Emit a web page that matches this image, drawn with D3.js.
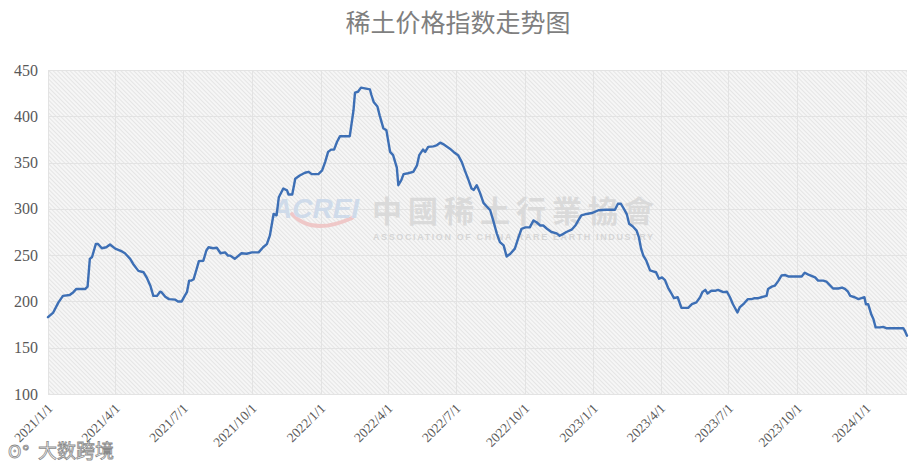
<!DOCTYPE html>
<html>
<head>
<meta charset="utf-8">
<script src="https://cdn.jsdelivr.net/npm/d3@7"></script>
<style>
  html, body { margin: 0; padding: 0; background: #ffffff; }
  svg { display: block; }
</style>
</head>
<body>
<svg id="chart" width="917" height="465"></svg>
<script>
// ---- data ----
const title = "稀土价格指数走势图";
const startDate = "2021-01-01";
// days since 2021-01-01
const days = [
  0,7,14,20,29,34,38,50,53,56,
  59,64,67,72,78,83,90,99,103,110,
  114,121,128,132,137,141,146,150,152,157,
  162,170,174,179,183,186,189,192,195,199,
  202,208,212,215,221,226,231,237,241,244,
  250,259,266,273,282,288,293,297,302,306,
  309,315,320,322,327,331,337,344,349,353,
  362,367,371,375,379,383,387,391,404,409,
  411,415,419,431,433,436,441,444,449,453,
  458,462,467,469,473,476,482,489,494,497,
  502,505,509,516,520,525,529,538,543,549,
  554,558,563,567,570,574,578,583,588,592,
  596,601,605,610,614,619,625,630,634,639,
  645,650,654,659,663,668,674,681,685,690,
  694,701,706,710,714,721,728,737,746,759,
  763,767,771,775,778,783,788,791,794,797,
  801,806,810,814,818,822,826,830,835,838,
  843,848,857,862,868,873,876,880,883,888,
  893,897,904,909,913,917,923,926,932,937,
  942,946,951,955,962,964,969,973,978,982,
  987,991,1000,1009,1013,1018,1027,1031,1038,1042,
  1045,1051,1058,1063,1067,1071,1074,1080,1085,1089,
  1093,1095,1098,1102,1105,1108,1114,1118,1123,1134,
  1145,1147,1150
];
const values = [
  183,188,199,206,207,210,213.5,213.5,216,246,
  248,262,262,257.5,258.5,261.5,257,254,252,246,
  240.5,233,231.5,226,217,206,206,210.5,210,205,
  202.5,202,200,200,206,210,222.5,222.5,224,235,
  243.5,244,255,258.5,257.5,258,252,253,249.5,249.5,
  246,252,251.5,253,253,258.5,262,271,294.5,293,
  312.5,322,320,315.5,315.5,332.5,336,339,340,337.5,
  337.5,341.5,350.5,361.5,364,364,372.5,378.5,378.5,406.5,
  425.5,426.5,431,429,423,415.5,410.5,401,387,385,
  361.5,358,344.5,325.5,331,337.5,338.5,340,347,358,
  364,361.5,367,367.5,368.5,371.5,370,365,361.5,358,
  350.5,341.5,331,322,320.5,325.5,318,306.5,302,298.5,
  287.5,273,264,260.5,248.5,251.5,257,269.5,278.5,280,
  280,287.5,285.5,282,282,278.5,275,273.5,271,273,
  275,277.5,282,287.5,293,294.5,295.5,298.5,299,299,
  305.5,305.5,300,294,284,281,276.5,269.5,257,249.5,
  244,233.5,232.5,231.5,224.5,226,223,215,208,203.5,
  204.5,193,193,197,199,204.5,210,212.5,208.5,211.5,
  211.5,212.5,210,210.5,204.5,197,188,193.5,198,202.5,
  202.5,203.5,203.5,204.5,206,213.5,216,217,222.5,228,
  228.5,227,227,227,231,229,226,222.5,222.5,221.5,
  219,214,214,215,213.5,210.5,206,204.5,202.5,203.5,
  204.5,197,197,186.5,181,172,172,172.5,171,171,
  171,168.5,163
];
const xTickLabels = ["2021/1/1","2021/4/1","2021/7/1","2021/10/1","2022/1/1","2022/4/1","2022/7/1","2022/10/1","2023/1/1","2023/4/1","2023/7/1","2023/10/1","2024/1/1"];
const yTicks = [100,150,200,250,300,350,400,450];

// ---- chart ----
const svg = d3.select("#chart");
const plot = {left: 48, right: 907, top: 70, bottom: 394};

const parse = d3.timeParse("%Y-%m-%d");
const t0 = parse(startDate);
const data = days.map((d, i) => ({date: d3.timeDay.offset(t0, d), value: values[i]}));
const tickDates = xTickLabels.map(s => d3.timeParse("%Y/%m/%d")(s));

const x = d3.scaleTime()
  .domain([t0, data[data.length - 1].date])
  .range([plot.left, plot.right]);
const y = d3.scaleLinear().domain([100, 450]).range([plot.bottom, plot.top]);

// hatch pattern
const defs = svg.append("defs");
const pat = defs.append("pattern")
  .attr("id", "hatch").attr("patternUnits", "userSpaceOnUse")
  .attr("width", 3).attr("height", 3)
  .attr("patternTransform", "rotate(45)");
pat.append("rect").attr("width", 3).attr("height", 3).attr("fill", "#f6f6f6");
pat.append("line").attr("x1", 0).attr("y1", 0).attr("x2", 3).attr("y2", 0)
  .attr("stroke", "#dadada").attr("stroke-width", 1.2);

svg.append("rect")
  .attr("x", plot.left).attr("y", plot.top)
  .attr("width", plot.right - plot.left).attr("height", plot.bottom - plot.top)
  .attr("fill", "url(#hatch)");

// grid
const grid = svg.append("g");
grid.selectAll("line.h").data(yTicks).join("line")
  .attr("x1", plot.left).attr("x2", plot.right)
  .attr("y1", d => Math.round(y(d)) + 0.5).attr("y2", d => Math.round(y(d)) + 0.5)
  .attr("stroke", "#e3e3e3").attr("stroke-width", 1);
grid.selectAll("line.v").data(tickDates).join("line")
  .attr("y1", plot.top).attr("y2", plot.bottom)
  .attr("x1", d => Math.round(x(d)) + 0.5).attr("x2", d => Math.round(x(d)) + 0.5)
  .attr("stroke", "#e3e3e3").attr("stroke-width", 1);

// watermark
const wm = svg.append("g").attr("pointer-events", "none");
wm.append("path")
  .attr("d", "M292,214 Q312,236 352,218")
  .attr("fill", "none").attr("stroke", "#efc8c8").attr("stroke-width", 4).attr("stroke-linecap", "round");
wm.append("text").attr("x", 272).attr("y", 218)
  .attr("font-family", "Liberation Sans, Arial, sans-serif")
  .attr("font-weight", "bold").attr("font-style", "italic")
  .attr("font-size", 28).attr("fill", "#cfdbea").text("ACREI");
wm.append("text").attr("x", 372).attr("y", 222)
  .attr("font-family", "Noto Sans CJK TC, Noto Sans CJK SC, sans-serif")
  .attr("font-weight", "bold")
  .attr("font-size", 30).attr("fill", "#dadada")
  .attr("textLength", 282).attr("lengthAdjust", "spacing")
  .text("中國稀土行業協會");
wm.append("text").attr("x", 373).attr("y", 240)
  .attr("font-family", "Liberation Sans, Arial, sans-serif")
  .attr("font-weight", "bold")
  .attr("font-size", 9).attr("fill", "#d6d6d6")
  .attr("textLength", 280).attr("lengthAdjust", "spacing")
  .text("ASSOCIATION OF CHINA RARE EARTH INDUSTRY");

// line
const line = d3.line().x(d => x(d.date)).y(d => y(d.value)).curve(d3.curveLinear);
svg.append("path").datum(data)
  .attr("d", line)
  .attr("fill", "none").attr("stroke", "#3d6fb5").attr("stroke-width", 2.4)
  .attr("stroke-linejoin", "round").attr("stroke-linecap", "round");

// y axis labels
const yAxis = d3.axisLeft(y).tickValues(yTicks).tickSize(0).tickPadding(0);
const gy = svg.append("g").attr("transform", `translate(${plot.left - 10},0)`).call(yAxis);
gy.select(".domain").remove();
gy.selectAll("text")
  .attr("font-family", "Liberation Serif, Times New Roman, serif")
  .attr("font-size", 16).attr("fill", "#595959");

// x axis labels
const xAxis = d3.axisBottom(x).tickValues(tickDates).tickSize(0).tickFormat((d, i) => xTickLabels[i]);
const gx = svg.append("g").attr("transform", `translate(0,${plot.bottom})`).call(xAxis);
gx.select(".domain").remove();
gx.selectAll("text")
  .attr("font-family", "Liberation Serif, Times New Roman, serif")
  .attr("font-size", 13.5).attr("fill", "#595959")
  .attr("text-anchor", "end")
  .attr("dy", 0)
  .attr("transform", "translate(3,13) rotate(-45)");

// title
svg.append("text").attr("x", 458).attr("y", 32)
  .attr("text-anchor", "middle")
  .attr("font-family", "Noto Sans CJK SC, sans-serif")
  .attr("font-size", 25).attr("fill", "#7f7f7f")
  .text(title);

// bottom-left watermark
const bw = svg.append("g");
bw.append("text").attr("x", 8).attr("y", 458)
  .attr("font-family", "DejaVu Sans, sans-serif").attr("font-size", 17)
  .attr("fill", "#ffffff").attr("stroke", "#8a8a8a").attr("stroke-width", 0.8)
  .text("ʘ°");
bw.append("text").attr("x", 38).attr("y", 458)
  .attr("font-family", "Noto Sans CJK SC, sans-serif").attr("font-size", 19)
  .attr("fill", "#ffffff").attr("stroke", "#8a8a8a").attr("stroke-width", 0.8)
  .text("大数跨境");
</script>
</body>
</html>
